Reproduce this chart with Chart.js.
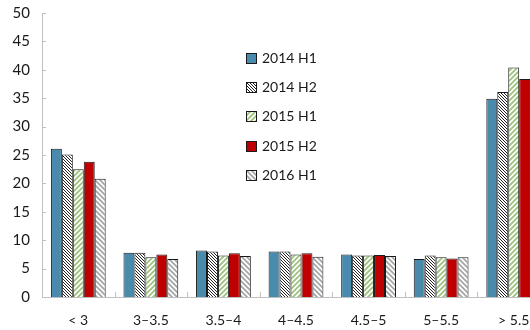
<!DOCTYPE html>
<html>
<head>
<meta charset="utf-8">
<script src="https://cdn.jsdelivr.net/npm/chart.js@4.4.1/dist/chart.umd.min.js"></script>
<style>
  body { margin: 0; overflow: hidden; background: #fff; }
  #caja { position: relative; width: 550px; height: 330px; }
  #leyenda { position: absolute; left: 246px; top: 49px; font-family: Lato, "Open Sans", sans-serif; font-size: 14px; color: #1a1a1a; }
  #leyenda div { height: 29.2px; display: flex; align-items: flex-start; }
  #leyenda canvas { margin-right: 5px; margin-top: 4px; }
</style>
</head>
<body>
<div id="caja">
  <canvas id="myChart" width="550" height="330"></canvas>
  <div id="leyenda"></div>
</div>
<script>
// categorias (tramos) y series
const categorias = ['< 3', '3–3.5', '3.5–4', '4–4.5', '4.5–5', '5–5.5', '> 5.5'];
const series = ['2014 H1', '2014 H2', '2015 H1', '2015 H2', '2016 H1'];
const v2014H1 = [26.1, 7.8, 8.2, 8.0, 7.5, 6.7, 34.9];
const v2014H2 = [25.1, 7.8, 8.0, 8.0, 7.3, 7.3, 36.1];
const v2015H1 = [22.5, 7.0, 7.3, 7.5, 7.3, 7.0, 40.4];
const v2015H2 = [23.8, 7.5, 7.7, 7.7, 7.4, 6.8, 38.4];
const v2016H1 = [20.8, 6.7, 7.2, 7.1, 7.2, 7.0, 43.5];
const ticksY = [0, 5, 10, 15, 20, 25, 30, 35, 40, 45, 50];

// rayado diagonal
function rayado(color, paso, grosor, sentido) {
  const c = document.createElement('canvas');
  c.width = paso; c.height = paso;
  const g = c.getContext('2d');
  g.fillStyle = '#fff';
  g.fillRect(0, 0, paso, paso);
  g.strokeStyle = color;
  g.lineWidth = grosor;
  g.beginPath();
  if (sentido === '\\') {
    g.moveTo(-1, -1); g.lineTo(paso + 1, paso + 1);
    g.moveTo(-1, paso - 1); g.lineTo(1, paso + 1);
    g.moveTo(paso - 1, -1); g.lineTo(paso + 1, 1);
  } else {
    g.moveTo(-1, paso + 1); g.lineTo(paso + 1, -1);
    g.moveTo(-1, 1); g.lineTo(1, -1);
    g.moveTo(paso - 1, paso + 1); g.lineTo(paso + 1, paso - 1);
  }
  g.stroke();
  return g.createPattern(c, 'repeat');
}

const rellenos = [
  '#4a8aad',
  rayado('#222', 3, 1, '\\'),
  rayado('#9cc27c', 5, 1.8, '/'),
  '#c00000',
  rayado('#a6a6a6', 5, 1.8, '\\')
];
const valores = [v2014H1, v2014H2, v2015H1, v2015H2, v2016H1];

// marcas de los ejes hacia dentro
const marcas = {
  id: 'marcas',
  afterDraw(chart) {
    const ctx = chart.ctx;
    const x = chart.scales.x, y = chart.scales.y;
    ctx.save();
    ctx.strokeStyle = '#bfbfbf';
    ctx.lineWidth = 1;
    ctx.beginPath();
    ticksY.forEach(t => {
      const py = Math.round(y.getPixelForValue(t)) + 0.5;
      ctx.moveTo(x.left, py); ctx.lineTo(x.left + 4, py);
    });
    for (let i = 1; i < categorias.length; i++) {
      const px = Math.round((x.getPixelForTick(i - 1) + x.getPixelForTick(i)) / 2) + 0.5;
      ctx.moveTo(px, y.bottom); ctx.lineTo(px, y.bottom - 5);
    }
    ctx.stroke();
    ctx.restore();
  }
};

const ctx = document.getElementById('myChart');
new Chart(ctx, {
  type: 'bar',
  data: {
    labels: categorias,
    datasets: series.map((s, i) => ({
      label: s,
      data: valores[i],
      backgroundColor: rellenos[i],
      borderColor: '#1a1a1a',
      borderWidth: 1,
      borderSkipped: 'bottom',
      barPercentage: 1,
      categoryPercentage: 0.755
    }))
  },
  options: {
    responsive: false,
    animation: false,
    layout: { padding: { top: 13, right: 0, left: 0, bottom: 0 } },
    plugins: { legend: { display: false }, tooltip: { enabled: false } },
    scales: {
      x: {
        grid: { display: false, drawTicks: false },
        border: { color: '#bfbfbf', width: 1 },
        ticks: { color: '#1a1a1a', padding: 15, maxRotation: 0, font: { family: 'Lato', size: 14 } },
        afterFit(s) { s.height = 33; s.paddingLeft = 0; s.paddingRight = 0; }
      },
      y: {
        min: 0, max: 50,
        grid: { display: false, drawTicks: false },
        border: { color: '#bfbfbf', width: 1 },
        ticks: { stepSize: 5, color: '#1a1a1a', padding: 12, font: { family: 'Lato', size: 15 } },
        afterFit(s) { s.width = 42; s.paddingTop = 0; s.paddingBottom = 0; }
      }
    }
  },
  plugins: [marcas]
});

// leyenda con texto real
const ley = document.getElementById('leyenda');
series.forEach((s, i) => {
  const fila = document.createElement('div');
  const c = document.createElement('canvas');
  c.width = 11; c.height = 11;
  const g = c.getContext('2d');
  g.fillStyle = rellenos[i];
  g.fillRect(0, 0, 11, 11);
  g.strokeStyle = '#1a1a1a';
  g.strokeRect(0.5, 0.5, 10, 10);
  fila.appendChild(c);
  fila.appendChild(document.createTextNode(s));
  ley.appendChild(fila);
});
</script>
</body>
</html>
